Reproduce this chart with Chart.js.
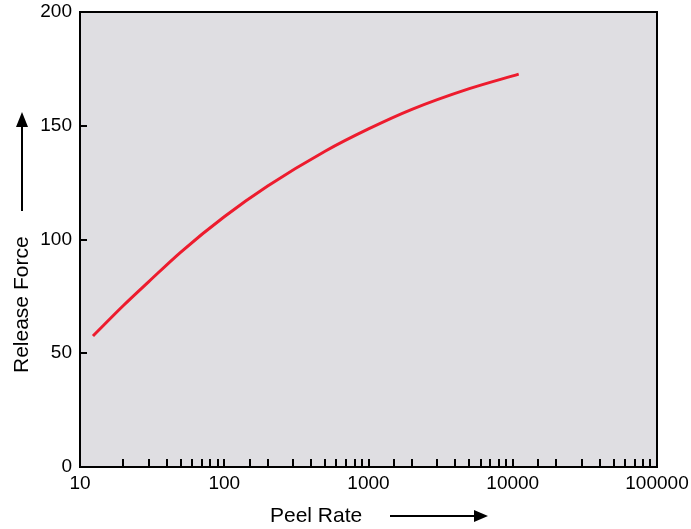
<!DOCTYPE html>
<html>
<head>
    <meta charset="UTF-8">
    <title>Release Force vs Peel Rate</title>
    <script src="https://cdn.jsdelivr.net/npm/chart.js@4.4.1/dist/chart.umd.min.js"></script>
    <style type="text/css">
        html, body { margin: 0; padding: 0; background: #fff; }
        #wrap { width: 691px; height: 529px; }
    </style>
</head>
<body>
    <div id="wrap"><canvas id="_canvas" width="691" height="529"></canvas></div>
    <script type="text/javascript">
        // values
        var peelRate = [12.3, 20, 30, 50, 100, 200, 500, 1000, 2000, 5000, 11000];
        var releaseForce = [57.6, 71, 81.5, 94.5, 110, 123.5, 138.8, 148.6, 157.2, 166.3, 172.7];
        var xMajor = [10, 100, 1000, 10000, 100000];
        var yTicks = [0, 50, 100, 150, 200];

        var points = [];
        for (var i = 0; i < peelRate.length; i++) {
            points.push({ x: peelRate[i], y: releaseForce[i] });
        }

        var font = "'Liberation Sans', Arial, Helvetica, sans-serif";

        // grey plot background, black frame, inward ticks, axis titles with arrows
        var decor = {
            id: "decor",
            beforeDatasetsDraw: function (chart) {
                var c = chart.ctx, a = chart.chartArea;
                c.save();
                c.fillStyle = "#dfdee2";
                c.fillRect(a.left, a.top, a.right - a.left, a.bottom - a.top);
                c.restore();
            },
            afterDraw: function (chart) {
                var c = chart.ctx, a = chart.chartArea;
                var xs = chart.scales.x, ys = chart.scales.y;
                c.save();
                c.strokeStyle = "#000";
                c.lineWidth = 2;
                c.strokeRect(a.left, a.top, a.right - a.left, a.bottom - a.top);

                // x ticks pointing up
                c.beginPath();
                xs.ticks.forEach(function (t) {
                    if (t.value <= 10 || t.value >= 100000) return;
                    var px = Math.round(xs.getPixelForValue(t.value));
                    c.moveTo(px, a.bottom);
                    c.lineTo(px, a.bottom - 8);
                });
                // y ticks pointing right
                yTicks.forEach(function (v) {
                    if (v == 0 || v == 200) return;
                    var py = Math.round(ys.getPixelForValue(v));
                    c.moveTo(a.left, py);
                    c.lineTo(a.left + 7, py);
                });
                c.stroke();

                // titles
                c.fillStyle = "#000";
                c.font = "21px " + font;
                c.textAlign = "left";
                c.textBaseline = "alphabetic";
                c.fillText("Peel Rate", 270, 522);

                c.save();
                c.translate(28, 373);
                c.rotate(-Math.PI / 2);
                c.fillText("Release Force", 0, 0);
                c.restore();

                // arrows
                c.lineWidth = 2;
                c.beginPath();
                c.moveTo(390, 516);
                c.lineTo(475, 516);
                c.moveTo(22, 211);
                c.lineTo(22, 126);
                c.stroke();
                c.beginPath();
                c.moveTo(488, 516);
                c.lineTo(474, 510);
                c.lineTo(474, 522);
                c.closePath();
                c.moveTo(22, 112);
                c.lineTo(16, 127);
                c.lineTo(28, 127);
                c.closePath();
                c.fill();
                c.restore();
            }
        };

        var ctx = document.getElementById("_canvas").getContext("2d");
        var chart = new Chart(ctx, {
            type: "line",
            data: {
                datasets: [{
                    data: points,
                    borderColor: "#ed1c2e",
                    borderWidth: 3,
                    pointRadius: 0,
                    fill: false,
                    cubicInterpolationMode: "monotone"
                }]
            },
            options: {
                responsive: false,
                animation: false,
                layout: { padding: { top: 12, right: 34, left: 0, bottom: 0 } },
                plugins: { legend: { display: false }, tooltip: { enabled: false } },
                scales: {
                    x: {
                        type: "logarithmic",
                        min: 10,
                        max: 100000,
                        grid: { display: false },
                        border: { display: false },
                        ticks: {
                            autoSkip: false,
                            maxRotation: 0,
                            padding: -3,
                            color: "#000",
                            font: { family: font, size: 19 },
                            callback: function (v) {
                                return xMajor.indexOf(v) >= 0 ? String(v) : "";
                            }
                        },
                        afterFit: function (s) { s.height = 62; }
                    },
                    y: {
                        min: 0,
                        max: 200,
                        afterBuildTicks: function (s) {
                            s.ticks = yTicks.map(function (v) { return { value: v }; });
                        },
                        grid: { display: false },
                        border: { display: false },
                        ticks: {
                            padding: 0,
                            color: "#000",
                            font: { family: font, size: 19 }
                        },
                        afterFit: function (s) { s.width = 80; }
                    }
                }
            },
            plugins: [decor]
        });
    </script>
</body>
</html>
